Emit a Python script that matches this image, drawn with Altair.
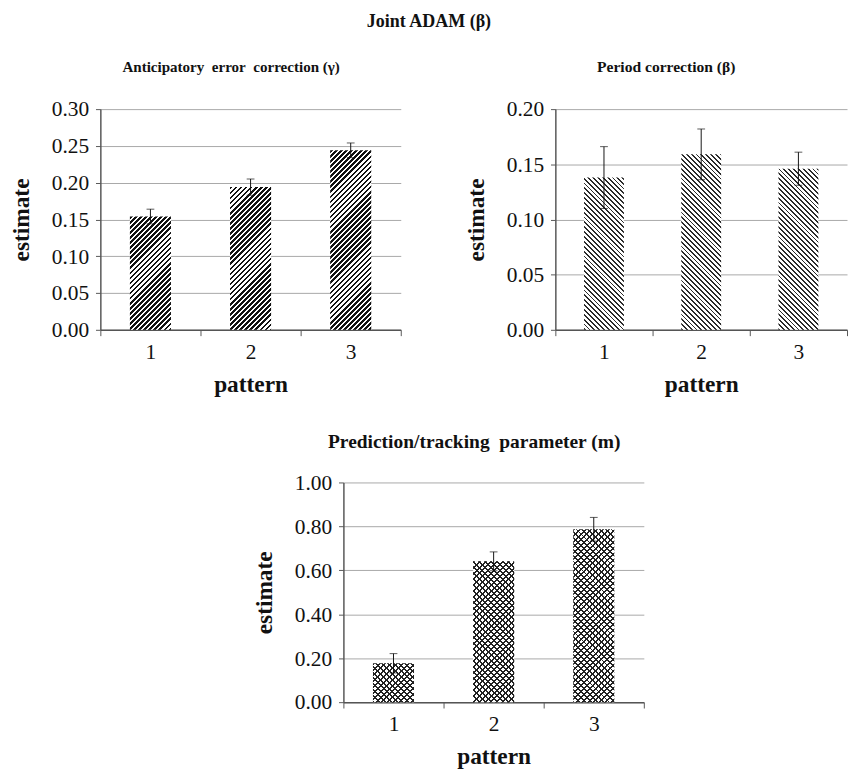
import altair as alt
import pandas as pd

# ---------------- data ----------------
patterns = ["1", "2", "3"]

gamma_est = [0.154, 0.194, 0.244]
gamma_err = [0.010, 0.011, 0.010]

beta_est = [0.138, 0.159, 0.146]
beta_err = [0.028, 0.023, 0.015]

m_est = [0.177, 0.641, 0.787]
m_err = [0.044, 0.043, 0.054]

gamma_ticks = [0.00, 0.05, 0.10, 0.15, 0.20, 0.25, 0.30]
beta_ticks = [0.00, 0.05, 0.10, 0.15, 0.20]
m_ticks = [0.0, 0.2, 0.4, 0.6, 0.8, 1.0]

FONT = "Liberation Serif"
BAND_FRAC = 0.41
NB = "\u00a0"


def stripes(w, h, period, frac, color, bg, direction):
    """Diagonal stripe fill built from a linear gradient (style only)."""
    L = w + h
    c = L / (w * w + h * h)
    if direction == "/":
        x1, y1, x2, y2 = 0, 0, c * w, c * h
    else:
        x1, y1, x2, y2 = 0, 1, c * w, 1 - c * h
    stops = []
    k = 0
    while k * period < L:
        a = k * period / L
        b = min((k * period + frac * period) / L, 1)
        e = min((k + 1) * period / L, 1)
        stops += [
            alt.GradientStop(offset=a, color=color),
            alt.GradientStop(offset=b, color=color),
            alt.GradientStop(offset=b, color=bg),
            alt.GradientStop(offset=e, color=bg),
        ]
        k += 1
    return alt.LinearGradient(gradient="linear", stops=stops,
                              x1=x1, y1=y1, x2=x2, y2=y2)


def panel(title, est, err, ticks, ymax, width, height, style,
          tsize, toffset, tdx):
    df = pd.DataFrame({"pattern": patterns, "estimate": est, "err": err})
    base = alt.Chart(df).transform_calculate(
        lo="datum.estimate - datum.err", hi="datum.estimate + datum.err"
    )
    x = alt.X("pattern:N", title="pattern",
              scale=alt.Scale(paddingInner=0, paddingOuter=0),
              axis=alt.Axis(labelAngle=0, tickBand="extent"))

    def y(field):
        return alt.Y(field, title="estimate",
                     scale=alt.Scale(domain=[0, ymax], nice=False, zero=True),
                     axis=alt.Axis(values=ticks, format=".2f", grid=True))

    bw = width / len(patterns) * BAND_FRAC
    layers = []
    for p, v in zip(patterns, est):
        h = max(v / ymax * height, 1)
        sub = base.transform_filter(alt.datum.pattern == p)
        if style == "gamma":
            fills = [stripes(bw, h, 5.2, 0.52, "#111111", "#ffffff", "/")]
        elif style == "beta":
            fills = [stripes(bw, h, 5.0, 0.38, "#2a2a2a", "#ffffff", "\\")]
        else:
            fills = [stripes(bw, h, 6.0, 0.33, "#222222", "#ffffff", "/"),
                     stripes(bw, h, 6.0, 0.33, "#222222", "rgba(255,255,255,0)", "\\")]
        for f in fills:
            layers.append(
                sub.mark_bar(width=alt.RelativeBandSize(BAND_FRAC), fill=f)
                .encode(x=x, y=y("estimate:Q"))
            )
    rule = base.mark_rule(color="#111111", strokeWidth=1).encode(
        x=x, y=y("lo:Q"), y2="hi:Q")
    cap_hi = base.mark_tick(orient="horizontal", size=8, thickness=1,
                            color="#111111").encode(x=x, y=y("hi:Q"))
    cap_lo = base.mark_tick(orient="horizontal", size=8, thickness=1,
                            color="#111111").encode(x=x, y=y("lo:Q"))
    return alt.layer(*layers, rule, cap_hi, cap_lo).properties(
        width=width, height=height,
        title=alt.TitleParams(title, fontSize=tsize, font=FONT, fontWeight="bold",
                              color="#111111", offset=toffset, anchor="middle",
                              dx=tdx),
    )


p1 = panel("Anticipatory" + NB + " error" + NB + " correction (γ)", gamma_est, gamma_err,
           gamma_ticks, 0.30, 309, 227, "gamma", 15.5, 24, -20)
p2 = panel("Period correction (β)", beta_est, beta_err,
           beta_ticks, 0.20, 300, 227, "beta", 16, 24, -36)
p3 = panel("Prediction/tracking" + NB + " parameter (m)", m_est, m_err,
           m_ticks, 1.0, 309, 226, "m", 20, 20, -20)

spacer = alt.Chart(pd.DataFrame({"v": [0]})).mark_point(opacity=0).encode(
    x=alt.value(0), y=alt.value(0)).properties(width=157, height=10)

top = alt.hconcat(p1, p2, spacing=65)
bottom = alt.hconcat(spacer, p3, spacing=0)

chart = alt.vconcat(top, bottom, spacing=38).properties(
    title=alt.TitleParams("Joint ADAM (β)", fontSize=18.5, font=FONT,
                          fontWeight="bold", color="#111111", anchor="middle",
                          offset=30),
    padding={"left": 2, "top": -7, "right": 0, "bottom": 0},
).configure_view(strokeWidth=0).configure_axis(
    labelFont=FONT, labelFontSize=22, labelColor="#111111",
    titleFont=FONT, titleFontSize=24, titleFontWeight="bold", titleColor="#111111",
    domainColor="#555555", domainWidth=1.5, tickColor="#555555", tickWidth=1,
    gridColor="#a6a6a6", gridWidth=1,
).configure_axisX(
    grid=False, tickSize=6, labelPadding=6, titlePadding=11,
).configure_axisY(
    tickSize=5, labelPadding=7, titlePadding=18,
)

chart.save("out.html", embed_options={"renderer": "svg", "actions": False})
